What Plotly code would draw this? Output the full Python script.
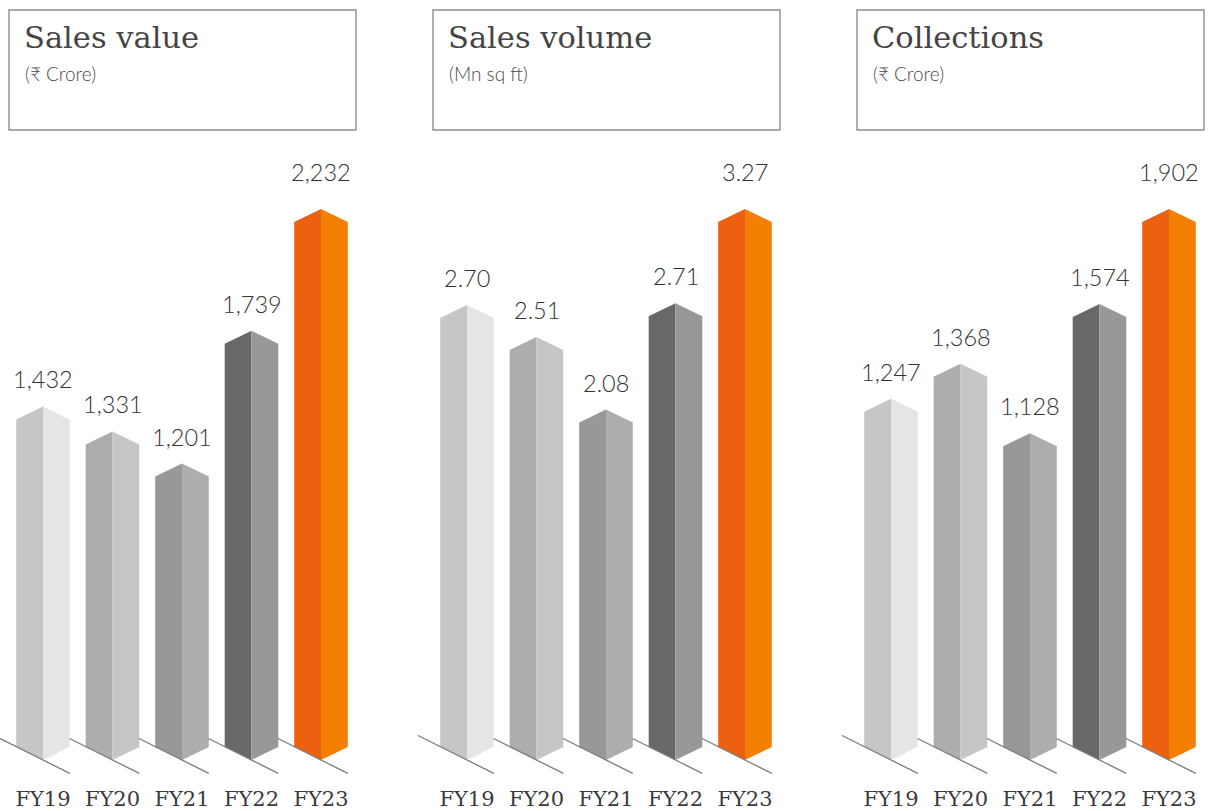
import plotly.graph_objects as go

W, H = 1208, 811
categories = ["FY19", "FY20", "FY21", "FY22", "FY23"]
sales_value = [1432, 1331, 1201, 1739, 2232]
sales_volume = [2.70, 2.51, 2.08, 2.71, 3.27]
collections = [1247, 1368, 1128, 1574, 1902]
value_labels_1 = ["1,432", "1,331", "1,201", "1,739", "2,232"]
value_labels_2 = ["2.70", "2.51", "2.08", "2.71", "3.27"]
value_labels_3 = ["1,247", "1,368", "1,128", "1,574", "1,902"]
titles = ["Sales value", "Sales volume", "Collections"]
units = ["(₹ Crore)", "(Mn sq ft)", "(₹ Crore)"]

left_colors = ["#c6c6c6", "#adadad", "#989898", "#686868", "#ec6011"]
right_colors = ["#e5e5e5", "#c6c6c6", "#adadad", "#989898", "#f37f03"]

SERIES = [sales_value, sales_volume, collections]
LABELS = [value_labels_1, value_labels_2, value_labels_3]

# layout constants, in page pixels
OFFSET = 424
FIRST_CENTER, STEP, HALF = 43.0, 69.5, 26.8
ZERO_Y, TOP_Y = 760.0, 209.0
DOM_TOP, DOM_BOT = 140.0, 784.0
CORNER = 13.0

SLAB = "DejaVu Serif"
SANS = "Lato"

fig = go.Figure()
layout = dict(
    width=W, height=H, margin=dict(l=0, r=0, t=0, b=0),
    paper_bgcolor="white", plot_bgcolor="rgba(0,0,0,0)", showlegend=False,
)
shapes, annotations = [], []

for p, values in enumerate(SERIES):
    shift = OFFSET * p
    dom_l = 0.0 if p == 0 else shift - 10.0
    dom_r = 356.0 + shift
    c0 = FIRST_CENTER + shift
    xr = [(dom_l - c0) / STEP, (dom_r - c0) / STEP]
    upp = max(values) / (ZERO_Y - TOP_Y)  # data units per pixel
    yr = [-(DOM_BOT - ZERO_Y) * upp, (ZERO_Y - DOM_TOP) * upp]
    suffix = "" if p == 0 else str(p + 1)
    layout["xaxis" + suffix] = dict(
        domain=[dom_l / W, dom_r / W], range=xr, anchor="y" + suffix,
        tickmode="array", tickvals=list(range(len(categories))), ticktext=categories,
        ticks="", showgrid=False, zeroline=False, showline=False, ticklabelstandoff=0,
        tickfont=dict(family=SLAB, size=21, color="#3a3a3a"),
    )
    layout["yaxis" + suffix] = dict(
        domain=[1 - DOM_BOT / H, 1 - DOM_TOP / H], range=yr, anchor="x" + suffix,
        visible=False, showgrid=False, zeroline=False,
    )
    xa, ya = "x" + suffix, "y" + suffix
    dx = HALF / STEP
    dy = CORNER * upp
    for i, v in enumerate(values):
        fig.add_trace(go.Scatter(
            x=[i - dx, i, i, i - dx, i - dx],
            y=[dy, 0, v, v - dy, dy],
            mode="lines", fill="toself", fillcolor=left_colors[i], line=dict(width=0),
            hoverinfo="skip", xaxis=xa, yaxis=ya,
        ))
        fig.add_trace(go.Scatter(
            x=[i, i + dx, i + dx, i, i],
            y=[0, dy, v - dy, v, 0],
            mode="lines", fill="toself", fillcolor=right_colors[i], line=dict(width=0),
            hoverinfo="skip", xaxis=xa, yaxis=ya,
        ))
        back = (49.0 if i == 0 else 43.0)
        fig.add_trace(go.Scatter(
            x=[i - back / STEP, i + dx],
            y=[back * 0.5 * upp, -HALF * 0.5 * upp],
            mode="lines", line=dict(color="#7d7d7d", width=1.3),
            hoverinfo="skip", xaxis=xa, yaxis=ya,
        ))
        annotations.append(dict(
            x=i, y=v, xref=xa, yref=ya, text=LABELS[p][i], showarrow=False,
            xanchor="center", yanchor="middle",
            yshift=37 if v == max(values) else 27,
            font=dict(family=SANS, size=23.5, color="#333333", weight=300),
        ))
    # header box
    x0, x1 = 9 + shift, 356 + shift
    shapes.append(dict(
        type="rect", xref="paper", yref="paper",
        x0=x0 / W, x1=x1 / W, y0=1 - 10 / H, y1=1 - 130 / H,
        line=dict(color="#8f8f8f", width=1.4), fillcolor="rgba(0,0,0,0)",
    ))
    annotations.append(dict(
        x=(22 + shift) / W, y=1 - 37 / H, xref="paper", yref="paper", text=titles[p],
        showarrow=False, xanchor="left", yanchor="middle",
        font=dict(family=SLAB, size=30.5, color="#454545"),
    ))
    annotations.append(dict(
        x=(23 + shift) / W, y=1 - 73 / H, xref="paper", yref="paper", text=units[p],
        showarrow=False, xanchor="left", yanchor="middle",
        font=dict(family=SANS, size=19, color="#4a4a4a", weight=300),
    ))

layout["shapes"] = shapes
layout["annotations"] = annotations
fig.update_layout(**layout)
fig.write_html(
    "out.html",
    config={"displayModeBar": False},
    post_script="document.body.style.margin='0';document.body.style.overflow='hidden';",
)
